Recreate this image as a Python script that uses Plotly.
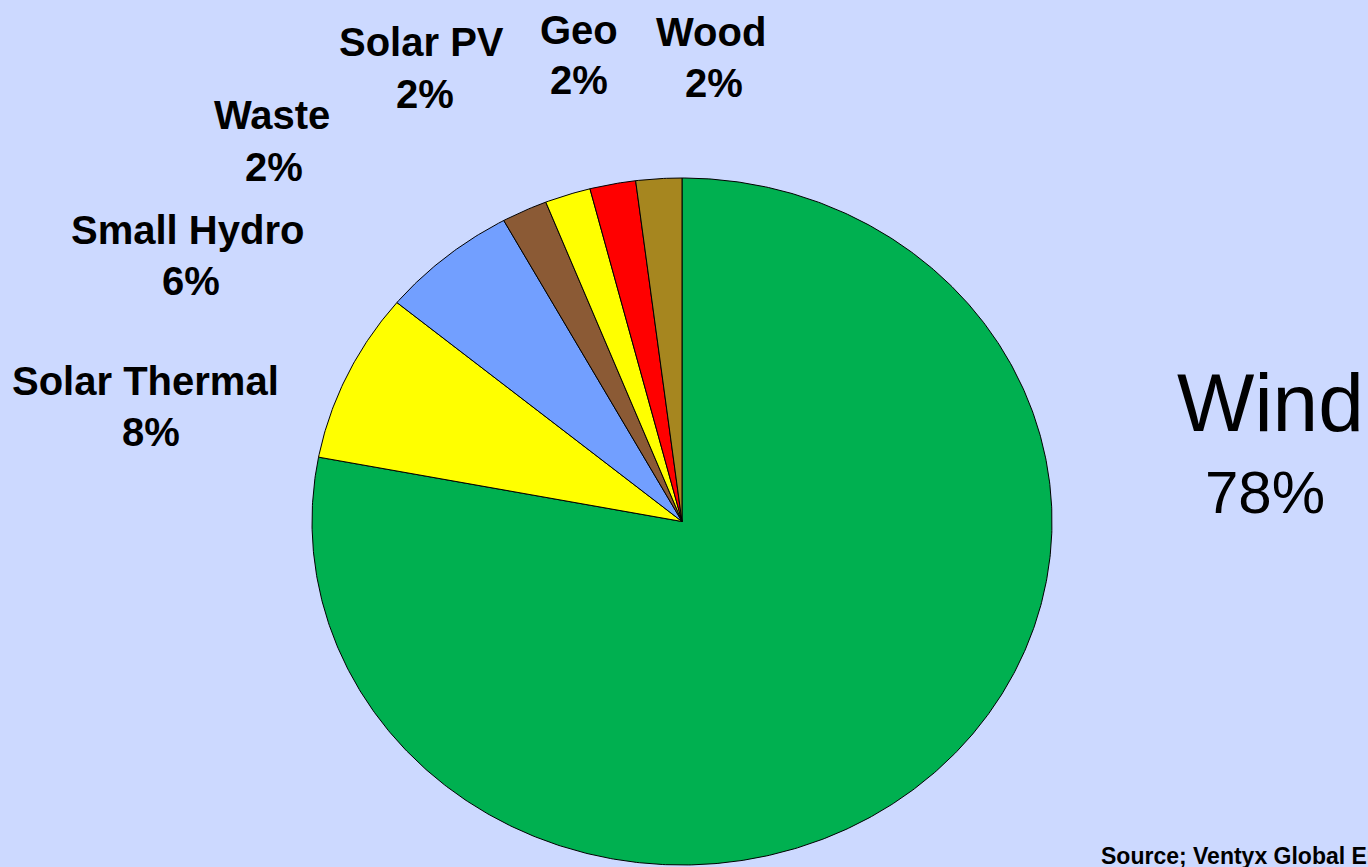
import numpy as np
import plotly.graph_objects as go

# Share of renewable capacity by source
sources = ["Wind", "Solar Thermal", "Small Hydro", "Waste", "Solar PV", "Geo", "Wood"]
shares = [78, 8, 6, 2, 2, 2, 2]
colors = ["#00B050", "#FFFF00", "#729FFF", "#8B5A35", "#FFFF00", "#FF0000", "#A6861F"]

# Pie geometry in page pixels (slightly wider than tall)
CX, CY, RX, RY = 682, 521.5, 370, 343.5
BG = "#CCD9FF"
FONT = "Liberation Sans, Arial, sans-serif"

fig = go.Figure()

total = sum(shares)
start = 0.0
for name, val, col in zip(sources, shares, colors):
    a0 = start / total * 2 * np.pi
    a1 = (start + val) / total * 2 * np.pi
    n = max(int(val * 8), 8)
    th = np.linspace(a0, a1, n)
    xs = np.concatenate([[CX], CX + RX * np.sin(th), [CX]])
    ys = np.concatenate([[CY], CY - RY * np.cos(th), [CY]])
    fig.add_trace(go.Scatter(
        x=xs, y=ys, mode="lines", fill="toself", fillcolor=col,
        line=dict(color="black", width=1), name=name, hoverinfo="name",
        showlegend=False,
    ))
    start += val

# Labels: (name line position, percent line position)
label_pos = {
    "Solar Thermal": ((145, 381), (151, 432)),
    "Small Hydro": ((187, 230), (191, 281)),
    "Waste": ((272, 115), (274, 167)),
    "Solar PV": ((421, 42), (425, 94)),
    "Geo": ((579, 30), (579, 80)),
    "Wood": ((711, 32), (714, 83)),
}
for name, val in zip(sources, shares):
    if name in label_pos:
        (x1, y1), (x2, y2) = label_pos[name]
        for txt, x, y in ((name, x1, y1), (f"{val}%", x2, y2)):
            fig.add_annotation(
                x=x, y=y, text=f"<b>{txt}</b>", showarrow=False,
                xanchor="center", yanchor="middle",
                font=dict(family=FONT, size=40, color="black"),
            )

fig.add_annotation(x=1270, y=402, text=sources[0], showarrow=False,
                   xanchor="center", yanchor="middle",
                   font=dict(family=FONT, size=82, color="black"))
fig.add_annotation(x=1265, y=492, text=f"{shares[0]}%", showarrow=False,
                   xanchor="center", yanchor="middle",
                   font=dict(family=FONT, size=60, color="black"))

fig.add_annotation(x=1099, y=856, text="<b>Source; Ventyx Global Energy</b>",
                   showarrow=False, xanchor="left", yanchor="middle",
                   font=dict(family=FONT, size=23, color="black"))

fig.update_layout(
    width=1368, height=867,
    margin=dict(l=0, r=0, t=0, b=0),
    paper_bgcolor=BG, plot_bgcolor=BG,
    xaxis=dict(range=[0, 1368], visible=False, fixedrange=True),
    yaxis=dict(range=[867, 0], visible=False, fixedrange=True),
    showlegend=False,
)

fig.write_html("out.html")
